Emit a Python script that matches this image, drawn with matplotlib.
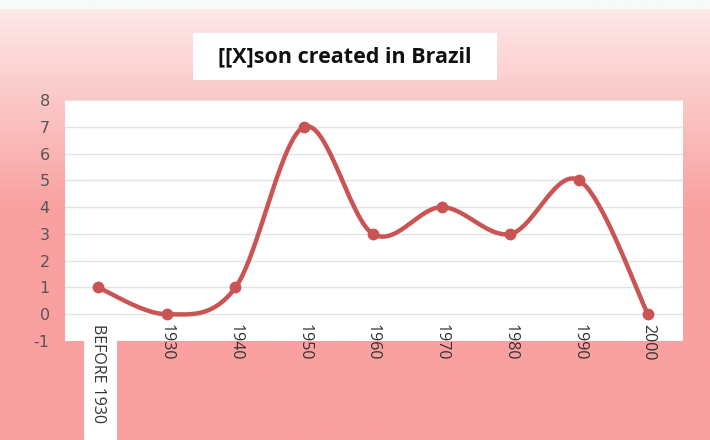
import numpy as np
import matplotlib.pyplot as plt
from matplotlib.patches import Rectangle

plt.rcParams['axes.unicode_minus'] = False

# donnees
categories = ['BEFORE 1930', '1930', '1940', '1950', '1960', '1970', '1980', '1990', '2000']
values = [1, 0, 1, 7, 3, 4, 3, 5, 0]
yticks = [-1, 0, 1, 2, 3, 4, 5, 6, 7, 8]

LINE = '#ca5453'

def smooth(x, y, n=40):
    # lissage type Excel (Catmull-Rom) pour le trace seulement
    x = np.asarray(x, float)
    y = np.asarray(y, float)
    px = np.concatenate([[x[0]], x, [x[-1]]])
    py = np.concatenate([[y[0]], y, [y[-1]]])
    xs, ys = [], []
    t = np.linspace(0, 1, n)
    for i in range(1, len(px) - 2):
        p0, p1, p2, p3 = py[i-1], py[i], py[i+1], py[i+2]
        q0, q1, q2, q3 = px[i-1], px[i], px[i+1], px[i+2]
        b1y = p1 + (p2 - p0) / 6
        b2y = p2 - (p3 - p1) / 6
        b1x = q1 + (q2 - q0) / 6
        b2x = q2 - (q3 - q1) / 6
        xs.append((1-t)**3*q1 + 3*(1-t)**2*t*b1x + 3*(1-t)*t**2*b2x + t**3*q2)
        ys.append((1-t)**3*p1 + 3*(1-t)**2*t*b1y + 3*(1-t)*t**2*b2y + t**3*p2)
    return np.concatenate(xs), np.concatenate(ys)

fig = plt.figure(figsize=(7.1, 4.4), dpi=100)

# fond degrade
bg = fig.add_axes([0, 0, 1, 1], zorder=-2)
h = 440
rows = np.zeros((h, 1, 3))
c_top = np.array([253, 232, 232]) / 255
c_bot = np.array([250, 160, 160]) / 255
for r in range(h):
    if r < 10:
        rows[r, 0] = np.array([246, 251, 250]) / 255
    else:
        f = min(1, (r - 10) / 200)
        rows[r, 0] = c_top * (1 - f) + c_bot * f
bg.imshow(rows, aspect='auto', extent=[0, 1, 0, 1])
bg.axis('off')

ax = fig.add_axes([65/710, 99/440, 618/710, 241/440])
ax.set_facecolor('white')
x = np.arange(len(categories))
sx, sy = smooth(x, values)
ax.plot(sx, sy, color=LINE, lw=3.2, solid_capstyle='round', zorder=3)
ax.plot(x, values, 'o', color=LINE, ms=7.5, zorder=4)

ax.set_xlim(-0.48, len(categories) - 0.49)
ax.set_ylim(-1, 8)
ax.set_yticks(yticks)
ax.yaxis.grid(True, color='#e3e3e3', lw=1)
ax.set_axisbelow(True)
for s in ax.spines.values():
    s.set_visible(False)
ax.tick_params(axis='y', length=0, pad=11, labelsize=11.5, labelcolor='#555555')
ax.set_xticks([])

# case blanche sous "BEFORE 1930"
fig.patches.append(Rectangle((84/710, 0), 33/710, 100/440, transform=fig.transFigure,
                             fc='white', ec='none', zorder=-1))
for i, c in enumerate(categories):
    ax.text(i, -0.38, c, rotation=-90, ha='center', va='top', fontsize=11.5,
            color='#333333', family='Open Sans', zorder=5, clip_on=False)

fig.patches.append(Rectangle((193/710, 1 - 80/440), 304/710, 47/440,
                             transform=fig.transFigure, fc='white', ec='none', zorder=-1))
fig.text(345/710, 1 - 57/440, '[[X]son created in Brazil', ha='center', va='center',
         fontsize=15.5, fontweight='bold', family='Open Sans', color='#111111')

fig.savefig('out.png', dpi=100)
